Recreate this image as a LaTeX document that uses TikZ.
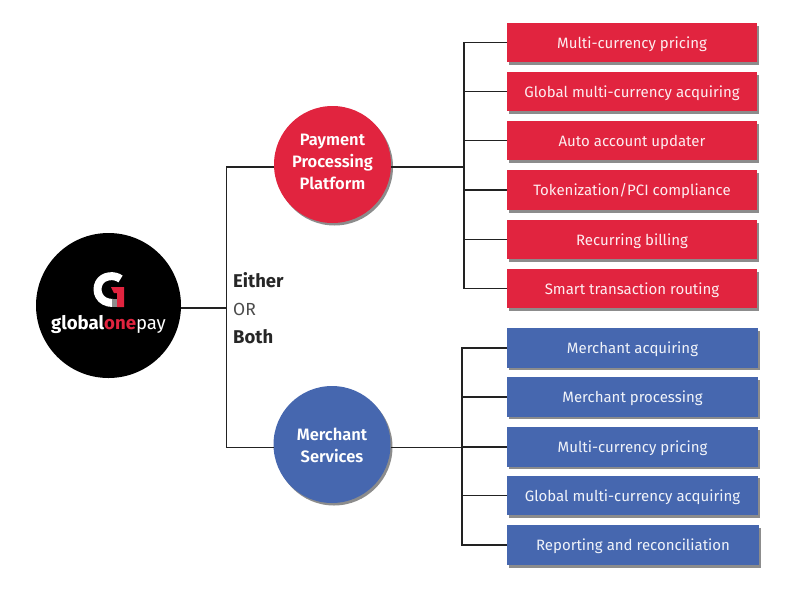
\documentclass[tikz,border=0pt]{standalone}
\usepackage{fontspec}
\setmainfont{Fira Sans}
\newfontfamily\semi{Fira Sans SemiBold}
\usetikzlibrary{shadows}
\definecolor{gred}{HTML}{E1243F}
\definecolor{gblue}{HTML}{4667AF}
\definecolor{gline}{HTML}{222222}
\tikzset{
  x=1pt,y=-1pt,
  softshadow/.style={drop shadow={shadow xshift=2pt,shadow yshift=-2.5pt,fill=black,opacity=.45}},
  itembox/.style={rectangle,minimum width=250pt,minimum height=39pt,inner xsep=0pt,inner ysep=0pt,outer sep=0pt,text height=13pt,text depth=2pt,font=\fontsize{15}{18}\selectfont,softshadow},
  redbox/.style={itembox,fill=gred,text=white!92!gred},
  bluebox/.style={itembox,fill=gblue,text=white!92!gblue,minimum height=39.5pt,minimum width=251pt},
  hub/.style={circle,minimum size=117pt,inner sep=0pt,outer sep=0pt,softshadow},
  hubtext/.style={inner sep=0pt,align=center,text=white,font=\fontsize{16.5}{22}\selectfont\semi},
  link/.style={draw=gline,line width=1.5pt},
  side/.style={anchor=west,inner sep=0pt,text height=13pt,text depth=0pt,font=\fontsize{18.5}{20}\selectfont\bfseries,text=black!85}
}
\begin{document}
\begin{tikzpicture}
\useasboundingbox (0,0) rectangle (800,592);
\node[circle,fill=black,minimum size=145pt,inner sep=0pt,outer sep=0pt] (L) at (108.5,305.5) {};
\node[hub,fill=gred] (P) at (332.5,164.5) {};
\node[hub,fill=gblue] (M) at (332,444.5) {};
\node[hubtext] (Pt) at (332.5,161.5) {Payment\\Processing\\Platform};
\node[hubtext] (Mt) at (332,445) {Merchant\\Services};
\node[redbox] (R1) at (632,42.5) {Multi-currency pricing};
\node[redbox] (R2) at (632,91.7) {Global multi-currency acquiring};
\node[redbox] (R3) at (632,140.5) {Auto account updater};
\node[redbox,minimum height=40pt] (R4) at (632,190) {Tokenization/PCI compliance};
\node[redbox] (R5) at (632,239.7) {Recurring billing};
\node[redbox] (R6) at (632,288.7) {Smart transaction routing};
\node[bluebox] (B1) at (632.5,347.8) {Merchant acquiring};
\node[bluebox] (B2) at (632.5,397.2) {Merchant processing};
\node[bluebox] (B3) at (632.5,447) {Multi-currency pricing};
\node[bluebox] (B4) at (632.5,495.7) {Global multi-currency acquiring};
\node[bluebox,minimum width=252pt,minimum height=40pt] (B5) at (633,545.2) {Reporting and reconciliation};
\coordinate (T) at (226.5,308);
\coordinate (PB) at (464,167);
\coordinate (MB) at (462,447.3);
\draw[link] (L.east |- T) -- (T);
\draw[link] ([yshift=-2.5pt]P.west) -| (T);
\draw[link] ([yshift=-2.8pt]M.west) -| (T);
\draw[link] ([yshift=-2.5pt]P.east) -- (PB);
\draw[link] ([yshift=-2.8pt]M.east) -- (MB);
\draw[link] (R1.west) -| (PB);
\draw[link] (R6.west) -| (PB);
\draw[link] (R2.west) -- (PB |- R2.west);
\draw[link] (R3.west) -- (PB |- R3.west);
\draw[link] (R4.west) -- (PB |- R4.west);
\draw[link] (R5.west) -- (PB |- R5.west);
\draw[link] (B1.west) -| (MB);
\draw[link] (B5.west) -| (MB);
\draw[link] (B2.west) -- (MB |- B2.west);
\draw[link] (B3.west) -- (MB |- B3.west);
\draw[link] (B4.west) -- (MB |- B4.west);
\node[side] (E) at (233,281) {Either};
\node[side,font=\fontsize{17.5}{20}\selectfont,text=black!70] (O) at (233,309) {OR};
\node[side] (Bo) at (233,337) {Both};
% logo
\draw[white,line width=8pt] (120.5,279) .. controls (115,274.5) and (103,275) .. (99,283) .. controls (95,291) and (99,303) .. (113,303);
\fill[black!45] (112,299) rectangle (117,307);
\fill[gred] (111,287) -- (124,287) -- (124,307) -- (117,307) -- (117,293) -- (114,293) -- cycle;
\node[inner sep=0pt,text=white,font=\fontsize{18.6}{20}\selectfont] (W) at (108.5,324) {\textbf{global}\textcolor{gred}{\textbf{one}}\textcolor{white}{pay}};
\end{tikzpicture}
\end{document}
